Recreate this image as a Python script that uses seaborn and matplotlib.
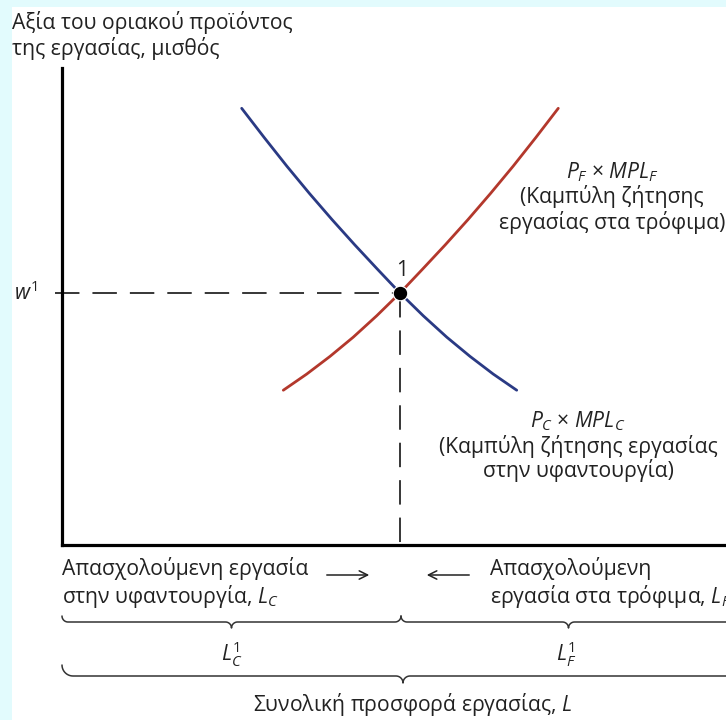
import numpy as np
import pandas as pd
import matplotlib.pyplot as plt
from matplotlib.patches import Rectangle
import seaborn as sns

# curves (x = position along the labour box, y = wage)
labor_c = [27.06, 30.47, 33.87, 37.27, 40.68, 44.08, 47.48, 50.90,
           54.41, 57.94, 61.45, 64.95, 68.48]
wage_c = [91.55, 85.39, 79.41, 73.69, 68.20, 62.94, 57.86, 52.83,
          48.05, 43.58, 39.54, 35.83, 32.45]
labor_f = [33.33, 36.85, 40.36, 43.87, 47.39, 50.90, 54.32, 57.73,
           61.13, 64.53, 67.94, 71.34, 74.74]
wage_f = [32.45, 35.83, 39.54, 43.58, 48.05, 52.83, 57.86, 62.94,
          68.20, 73.69, 79.41, 85.39, 91.55]
eq_labor = 50.9
eq_wage = 52.83

y_title = "Αξία του οριακού προϊόντος\nτης εργασίας, μισθός"
lab_c = ["$P_C$ × $MPL_C$", "(Καμπύλη ζήτησης εργασίας", "στην υφαντουργία)"]
lab_f = ["$P_F$ × $MPL_F$", "(Καμπύλη ζήτησης", "εργασίας στα τρόφιμα)"]
lab_lc = "Απασχολούμενη εργασία\nστην υφαντουργία, $L_C$"
lab_lf = "Απασχολούμενη\nεργασία στα τρόφιμα, $L_F$"
lab_total = "Συνολική προσφορά εργασίας, $L$"

sns.set_style("white")
plt.rcParams["font.family"] = ["Open Sans", "DejaVu Sans"]
plt.rcParams["mathtext.fontset"] = "custom"
plt.rcParams["mathtext.rm"] = "Open Sans"
plt.rcParams["mathtext.it"] = "Open Sans:italic"
plt.rcParams["mathtext.bf"] = "Open Sans:bold"

W, H = 726, 720
fig = plt.figure(figsize=(W / 100, H / 100), dpi=100, facecolor="#e2fbfd")
fig.patches.append(Rectangle((12 / W, 0), 1, (H - 7) / H, transform=fig.transFigure,
                             facecolor="white", edgecolor="none", zorder=-5))

ax = fig.add_axes([62 / W, (H - 545) / H, (W - 62) / W, 477 / H], zorder=1)
ax.set_facecolor("none")
df = pd.concat([
    pd.DataFrame({"L": labor_c, "w": wage_c, "curve": "C"}),
    pd.DataFrame({"L": labor_f, "w": wage_f, "curve": "F"}),
])
sns.lineplot(data=df, x="L", y="w", hue="curve", palette={"C": "#2a3a84", "F": "#b3382c"},
             sort=False, estimator=None, lw=2.0, legend=False, ax=ax)
ax.plot([-1.1, eq_labor], [eq_wage, eq_wage], color="black", lw=1.1,
        linestyle=(0, (16, 8.5)), clip_on=False)
ax.plot([eq_labor, eq_labor], [eq_wage, 0], color="black", lw=1.1,
        linestyle=(0, (16, 8.5)))
sns.scatterplot(x=[eq_labor], y=[eq_wage], color="black", s=110, zorder=5, ax=ax)
ax.set_xlim(0, 100)
ax.set_ylim(0, 100)
ax.set_xticks([])
ax.set_yticks([])
ax.set_xlabel("")
ax.set_ylabel("")
sns.despine(ax=ax, top=True, right=True)
for side in ["left", "bottom"]:
    ax.spines[side].set_linewidth(2.3)
    ax.spines[side].set_color("black")

# overlay in pixel units for labels and braces
ov = fig.add_axes([0, 0, 1, 1], zorder=3)
ov.set_xlim(0, W)
ov.set_ylim(H, 0)
ov.axis("off")
ov.patch.set_alpha(0)

fs = 15.2
tc = "#222222"
ov.text(12, 11, y_title, fontsize=fs, va="top", ha="left", color=tc, linespacing=1.15)
ov.text(14, 293, "$w^{\\mathrm{1}}$", fontsize=fs, va="center", ha="left", color=tc)
ov.text(402, 271, "1", fontsize=fs, va="center", ha="center", color=tc)

for i, t in enumerate(lab_f):
    ov.text(612, 172 + 25 * i, t, fontsize=fs, ha="center", va="center", color=tc)
for i, t in enumerate(lab_c):
    ov.text(578, 421 + 25 * i, t, fontsize=fs, ha="center", va="center", color=tc)

ov.text(62, 584, lab_lc, fontsize=fs, ha="left", va="center", color=tc, linespacing=1.15)
ov.text(490, 584, lab_lf, fontsize=fs, ha="left", va="center", color=tc, linespacing=1.15)
ov.annotate("", xy=(372, 575), xytext=(324, 575),
            arrowprops=dict(arrowstyle="->,head_length=0.6,head_width=0.3", lw=1.1, color=tc))
ov.annotate("", xy=(424, 575), xytext=(472, 575),
            arrowprops=dict(arrowstyle="->,head_length=0.6,head_width=0.3", lw=1.1, color=tc))

ov.text(232, 654, "$L_C^{\\mathrm{1}}$", fontsize=fs, ha="center", va="center", color=tc)
ov.text(566, 654, "$L_F^{\\mathrm{1}}$", fontsize=fs, ha="center", va="center", color=tc)
ov.text(413, 705, lab_total, fontsize=fs, ha="center", va="center", color=tc)


def brace(x0, x1, yl, r, rh):
    xm = (x0 + x1) / 2
    pts = []
    t = np.linspace(np.pi, np.pi / 2, 12)
    pts += list(zip(x0 + rh + rh * np.cos(t), yl - rh + rh * np.sin(t)))
    t = np.linspace(1.5 * np.pi, 2 * np.pi, 12)
    pts += list(zip(xm - r + r * np.cos(t), yl + r + r * np.sin(t)))
    t = np.linspace(np.pi, 1.5 * np.pi, 12)
    pts += list(zip(xm + r + r * np.cos(t), yl + r + r * np.sin(t)))
    t = np.linspace(np.pi / 2, 0, 12)
    pts += list(zip(x1 - rh + rh * np.cos(t), yl - rh + rh * np.sin(t)))
    xs, ys = zip(*pts)
    ov.plot(xs, ys, color="#333333", lw=1.1)


brace(62, 401, 622, 6, 6)
brace(401, 736, 622, 6, 6)
brace(62, 744, 676, 7, 11)

fig.savefig("out.png", dpi=100, facecolor=fig.get_facecolor())
